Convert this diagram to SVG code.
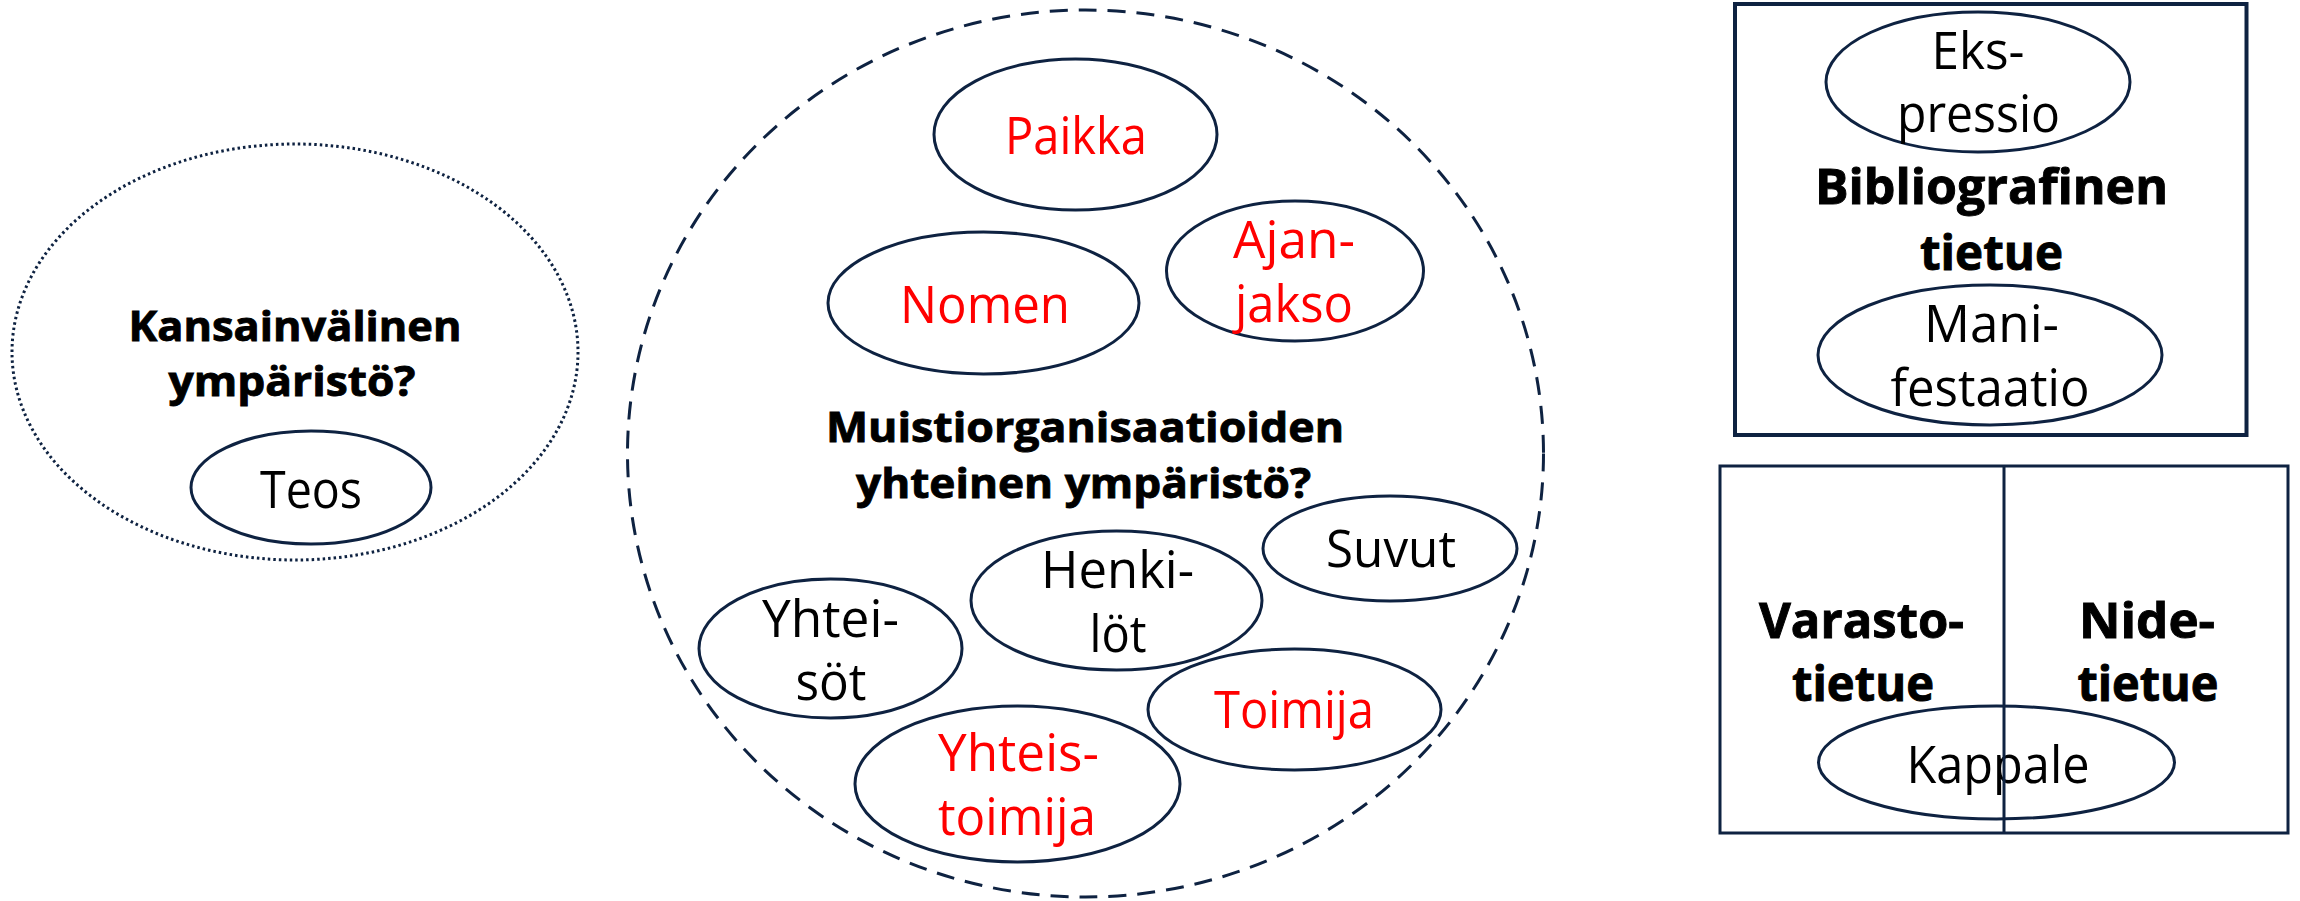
<svg xmlns="http://www.w3.org/2000/svg" width="2300" height="901" viewBox="0 0 2300 901">
<style>
  .e { fill: none; stroke: #0E2241; stroke-width: 3; }
  .box { fill: none; stroke: #0E2241; stroke-width: 4; }
  .t { font-family: "Open Sans", "Noto Sans", "Liberation Sans", sans-serif; font-size: 51px; fill: #000; text-anchor: middle; }
  .r { fill: #FF0000; }
  .b { font-family: "Open Sans", "Noto Sans", "Liberation Sans", sans-serif; font-weight: bold; fill: #000; stroke: #000; stroke-width: 0.9px; text-anchor: middle; }
  .bc { font-size: 42px; }
  .bb { font-size: 48px; }
</style>
<rect x="0" y="0" width="2300" height="901" fill="#FFFFFF"/>

<g id="kansainvalinen">
  <ellipse cx="295" cy="352" rx="283" ry="208" fill="none" stroke="#0E2241" stroke-width="3" stroke-dasharray="2.5 3"/>
  <text class="b bc" x="295" y="341" textLength="333" lengthAdjust="spacingAndGlyphs">Kansainvälinen</text>
  <text class="b bc" x="292" y="396" textLength="247" lengthAdjust="spacingAndGlyphs">ympäristö?</text>
</g>
<g id="teos">
  <ellipse class="e" cx="311" cy="487.5" rx="120" ry="56.5"/>
  <text class="t" x="311" y="508" textLength="102" lengthAdjust="spacingAndGlyphs">Teos</text>
</g>

<g id="muisti">
  <ellipse cx="1085.5" cy="453.5" rx="458" ry="443.5" fill="none" stroke="#0E2241" stroke-width="3" stroke-dasharray="18 11"/>
  <text class="b bc" x="1085" y="442" textLength="518" lengthAdjust="spacingAndGlyphs">Muistiorganisaatioiden</text>
  <text class="b bc" x="1083.5" y="498" textLength="455" lengthAdjust="spacingAndGlyphs">yhteinen ympäristö?</text>
</g>
<g id="paikka">
  <ellipse class="e" cx="1075.5" cy="134.5" rx="141.5" ry="75.5"/>
  <text class="t r" x="1076" y="154" textLength="142" lengthAdjust="spacingAndGlyphs">Paikka</text>
</g>
<g id="nomen">
  <ellipse class="e" cx="983.5" cy="303" rx="155.5" ry="71"/>
  <text class="t r" x="985" y="323" textLength="170" lengthAdjust="spacingAndGlyphs">Nomen</text>
</g>
<g id="ajanjakso">
  <ellipse class="e" cx="1295" cy="271" rx="128.5" ry="70"/>
  <text class="t r" x="1294" y="258" textLength="122" lengthAdjust="spacingAndGlyphs">Ajan-</text>
  <text class="t r" x="1294" y="322" textLength="118" lengthAdjust="spacingAndGlyphs">jakso</text>
</g>
<g id="suvut">
  <ellipse class="e" cx="1390" cy="548.5" rx="127" ry="52.5"/>
  <text class="t" x="1391" y="567" textLength="130" lengthAdjust="spacingAndGlyphs">Suvut</text>
</g>
<g id="henkilot">
  <ellipse class="e" cx="1116.5" cy="600.5" rx="145.5" ry="69.5"/>
  <text class="t" x="1117.5" y="588" textLength="153" lengthAdjust="spacingAndGlyphs">Henki-</text>
  <text class="t" x="1118" y="652" textLength="57" lengthAdjust="spacingAndGlyphs">löt</text>
</g>
<g id="yhteisot">
  <ellipse class="e" cx="830.5" cy="648.5" rx="131.5" ry="69.5"/>
  <text class="t" x="830.5" y="637" textLength="137" lengthAdjust="spacingAndGlyphs">Yhtei-</text>
  <text class="t" x="831" y="700" textLength="71" lengthAdjust="spacingAndGlyphs">söt</text>
</g>
<g id="toimija">
  <ellipse class="e" cx="1294.5" cy="709.5" rx="146.5" ry="60.5"/>
  <text class="t r" x="1294" y="728" textLength="160" lengthAdjust="spacingAndGlyphs">Toimija</text>
</g>
<g id="yhteistoimija">
  <ellipse class="e" cx="1017.5" cy="784" rx="162.5" ry="78"/>
  <text class="t r" x="1018.5" y="771" textLength="161" lengthAdjust="spacingAndGlyphs">Yhteis-</text>
  <text class="t r" x="1017" y="835" textLength="158" lengthAdjust="spacingAndGlyphs">toimija</text>
</g>

<g id="bibliografinen">
  <rect class="box" x="1735" y="4" width="511.5" height="431"/>
  <text class="b bb" x="1991.5" y="204" textLength="353" lengthAdjust="spacingAndGlyphs">Bibliografinen</text>
  <text class="b bb" x="1991.5" y="270" textLength="143" lengthAdjust="spacingAndGlyphs">tietue</text>
</g>
<g id="ekspressio">
  <ellipse class="e" cx="1978" cy="82" rx="152" ry="70"/>
  <text class="t" x="1978" y="69" textLength="93" lengthAdjust="spacingAndGlyphs">Eks-</text>
  <text class="t" x="1978.5" y="132" textLength="163" lengthAdjust="spacingAndGlyphs">pressio</text>
</g>
<g id="manifestaatio">
  <ellipse class="e" cx="1990" cy="355" rx="172" ry="70"/>
  <text class="t" x="1991.5" y="342" textLength="135" lengthAdjust="spacingAndGlyphs">Mani-</text>
  <text class="t" x="1990" y="406" textLength="199" lengthAdjust="spacingAndGlyphs">festaatio</text>
</g>

<g id="varasto-nide">
  <rect x="1720" y="466" width="568" height="367" fill="none" stroke="#0E2241" stroke-width="3"/>
  <text class="b bb" x="1861.5" y="638" textLength="205" lengthAdjust="spacingAndGlyphs">Varasto-</text>
  <text class="b bb" x="1863" y="701" textLength="142" lengthAdjust="spacingAndGlyphs">tietue</text>
  <text class="b bb" x="2147" y="638" textLength="136" lengthAdjust="spacingAndGlyphs">Nide-</text>
  <text class="b bb" x="2148" y="701" textLength="141" lengthAdjust="spacingAndGlyphs">tietue</text>
</g>
<g id="kappale">
  <ellipse class="e" cx="1996.5" cy="762.5" rx="178" ry="56.5"/>
  <text class="t" x="1998" y="783" textLength="183" lengthAdjust="spacingAndGlyphs">Kappale</text>
</g>
<g id="divider">
  <line x1="2004" y1="466" x2="2004" y2="833" stroke="#0E2241" stroke-width="3"/>
</g>
</svg>
